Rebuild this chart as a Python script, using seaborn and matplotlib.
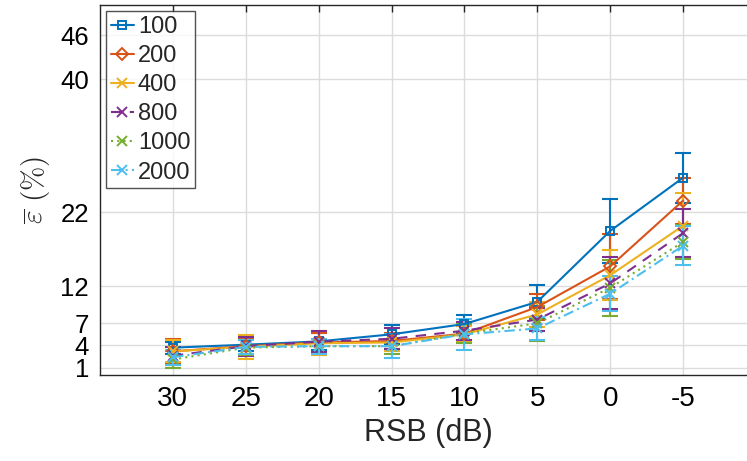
import numpy as np
import pandas as pd
import matplotlib
matplotlib.use('Agg')
import matplotlib.pyplot as plt
import seaborn as sns

# data
snr_labels = ['30', '25', '20', '15', '10', '5', '0', '-5']
series = ['100', '200', '400', '800', '1000', '2000']

err_100 = [3.7, 4.1, 4.55, 5.5, 6.9, 9.9, 19.5, 26.7]
err_200 = [3.2, 3.9, 4.4, 4.6, 5.6, 9.2, 14.7, 23.6]
err_400 = [3.2, 3.8, 4.3, 4.4, 5.5, 8.2, 13.5, 20.2]
err_800 = [2.6, 3.9, 4.5, 4.9, 6.0, 7.5, 12.4, 19.2]
err_1000 = [2.1, 3.7, 3.9, 3.9, 5.6, 7.0, 11.8, 18.0]
err_2000 = [2.4, 3.8, 3.9, 3.9, 5.5, 6.3, 11.0, 17.5]

sd_100 = [0.8, 0.9, 1.1, 1.3, 1.2, 2.3, 4.3, 3.4]
sd_200 = [1.7, 1.0, 1.3, 1.1, 1.0, 1.8, 4.4, 3.1]
sd_400 = [1.5, 1.6, 1.6, 1.2, 1.1, 1.7, 3.4, 4.4]
sd_800 = [1.2, 1.3, 1.4, 1.4, 1.2, 1.6, 3.5, 3.2]
sd_1000 = [1.1, 1.0, 1.0, 1.0, 1.3, 2.4, 3.8, 2.3]
sd_2000 = [1.0, 0.9, 1.0, 1.6, 2.1, 1.6, 2.4, 2.6]

means = [err_100, err_200, err_400, err_800, err_1000, err_2000]
sds = [sd_100, sd_200, sd_400, sd_800, sd_1000, sd_2000]

colors = ['#0072BD', '#D95319', '#EDB120', '#7E2F8E', '#77AC30', '#4DBEEE']
markers = ['s', 'D', 'x', 'x', 'x', 'x']
styles = ['-', '-', '-', (0, (5, 4)), (0, (1, 2)), (0, (5, 2, 1, 2))]

sns.set_theme(style='white')
plt.rcParams['font.family'] = ['Liberation Sans', 'DejaVu Sans']
plt.rcParams['mathtext.fontset'] = 'cm'

fig = plt.figure(figsize=(7.47, 4.61), dpi=100)
ax = fig.add_axes([100 / 747, 1 - 375 / 461, 656 / 747, 369.5 / 461])

pos = np.arange(1, len(snr_labels) + 1)
for name, m, s, c, mk, ls in zip(series, means, sds, colors, markers, styles):
    df = pd.DataFrame({'pos': pos, 'val': m})
    ax.errorbar(pos, m, yerr=s, fmt='none', ecolor=c, elinewidth=1.5,
                capsize=6, capthick=1.5, zorder=2)
    sns.lineplot(data=df, x='pos', y='val', ax=ax, color=c, marker=mk,
                 linestyle=ls, linewidth=1.5, markersize=6 if mk != 'x' else 7,
                 markerfacecolor='none', markeredgecolor=c, markeredgewidth=1.4,
                 label=name, zorder=3)

ax.set_xlim(0, 9)
ax.set_ylim(0, 50)
ax.set_xticks(pos)
ax.set_xticklabels(snr_labels)
ax.set_yticks([1, 4, 7, 12, 22, 40, 46])
ax.grid(True, color='#dcdcdc', linewidth=1)
ax.set_axisbelow(True)
ax.tick_params(direction='in', length=5, width=1, colors='#262626',
               labelsize=20, top=True, right=True, labelcolor='black', pad=8)
ax.tick_params(axis='y', labelsize=18.5)
for sp in ax.spines.values():
    sp.set_color('#262626')
    sp.set_linewidth(1)

ax.set_xlabel('RSB (dB)', fontsize=22, labelpad=4)
ax.set_ylabel(r'$\overline{\varepsilon}\ (\%)$', fontsize=21, labelpad=6)

leg = ax.legend(loc='upper left', fontsize=17, frameon=True, fancybox=False,
                edgecolor='#262626', handlelength=1.0, handletextpad=0.15,
                labelspacing=0.3, borderpad=0.2, borderaxespad=0.25)
leg.get_frame().set_linewidth(1)

fig.savefig('out.png', dpi=100)
